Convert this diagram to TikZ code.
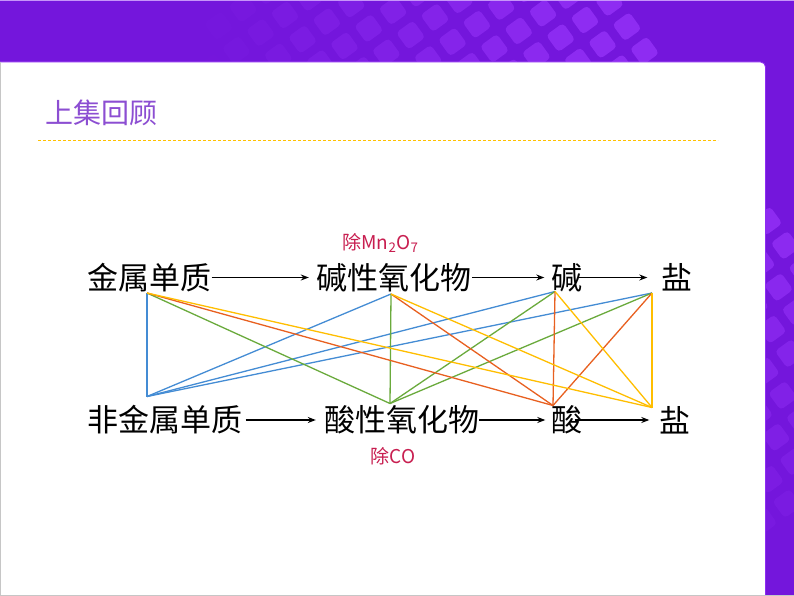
\documentclass[tikz,border=0pt]{standalone}
\usepackage{fontspec}
\setmainfont{Noto Sans CJK SC}
\usetikzlibrary{arrows.meta}
\definecolor{bandpurple}{RGB}{116,22,220}
\definecolor{tilepurple}{RGB}{142,44,242}
\definecolor{titlepurple}{RGB}{140,78,210}
\definecolor{dashyellow}{RGB}{255,192,0}
\definecolor{labelred}{RGB}{200,30,80}
\definecolor{lblue}{RGB}{68,140,212}
\definecolor{lgreen}{RGB}{106,170,60}
\definecolor{lorange}{RGB}{232,96,32}
\definecolor{lyellow}{RGB}{255,190,0}
\begin{document}
\begin{tikzpicture}[x=1pt,y=-1pt,
  mainlbl/.style={font=\fontsize{31}{31}\selectfont, inner sep=0pt, text=black},
  redlbl/.style={font=\fontsize{19}{19}\selectfont, inner sep=0pt, text=labelred},
  flow/.style={line width=1.2pt, -{Stealth[length=8pt,width=6pt]}},
  conn/.style={line width=1.3pt}]
\useasboundingbox (0,0) rectangle (794,596);
% background
\fill[bandpurple] (0,0) rectangle (794,596);
\foreach \i in {-28,...,1}{
  \foreach \j in {-12,...,17}{
    \pgfmathsetmacro{\cx}{585+24.3*\i+17.6*\j}
    \pgfmathsetmacro{\cy}{20-17.6*\i+24.3*\j}
    \pgfmathsetmacro{\dd}{veclen(\cx-794,\cy)}
    \pgfmathsetmacro{\op}{min(1,max(0,(600-\dd)/380))}
    \fill[tilepurple, fill opacity=\op, shift={(\cx,\cy)}, rotate=36, rounded corners=4pt]
      (-10.5,-10.5) rectangle (10.5,10.5);
  }}
\draw[tilepurple!50!white, line width=1pt] (0,0.5) -- (794,0.5);
\fill[white, draw=tilepurple, line width=0.8pt, rounded corners=5pt] (-10,62) rectangle (765.5,620);
\draw[gray!45, line width=1pt] (0.5,62) -- (0.5,595.5) -- (794,595.5);
% title
\node[text=titlepurple, font=\fontsize{28}{28}\selectfont, anchor=west, inner sep=0pt] (title) at (45,113) {上集回顾};
\draw[dashyellow, dash pattern=on 3pt off 2pt, line width=0.9pt] (38,140) -- (718,140);
% main nodes
\node[mainlbl] (n1) at (149.5,277.5) {金属单质};
\node[mainlbl] (n2) at (393.5,277.5) {碱性氧化物};
\node[mainlbl] (n3) at (567,277.5) {碱};
\node[mainlbl] (n4) at (677,277.5) {盐};
\node[mainlbl] (m1) at (165,420) {非金属单质};
\node[mainlbl] (m2) at (401.5,420) {酸性氧化物};
\node[mainlbl] (m3) at (567,420) {酸};
\node[mainlbl] (m4) at (675,420) {盐};
\node[redlbl] (r1) at (380.5,243) {除Mn\textsubscript{2}O\textsubscript{7}};
\node[redlbl] (r2) at (393,456) {除CO};
% flow arrows
\draw[flow, shorten >=7pt] (n1.east) -- (n2.west);
\draw[flow, shorten <=1pt, shorten >=7pt] (n2.east) -- (n3.west);
\draw[flow, shorten <=-5pt, shorten >=14pt] (n3.east) -- (n4.west);
\draw[flow, shorten <=3pt, shorten >=8pt] (m1.east) -- (m2.west);
\draw[flow, shorten >=6pt] (m2.east) -- (m3.west);
\draw[flow, shorten <=-8pt, shorten >=10pt] (m3.east) -- (m4.west);
% connection points
\coordinate (A) at (147,293);
\coordinate (B) at (391,294);
\coordinate (C) at (555,291.5);
\coordinate (D) at (652,293);
\coordinate (E) at (147,396.5);
\coordinate (F) at (390,403.5);
\coordinate (G) at (553,405.5);
\coordinate (H) at (652,407.5);
% blue
\draw[conn, lblue] (A) -- (E);
\draw[conn, lblue] (E) -- (B);
\draw[conn, lblue] (E) -- (C);
\draw[conn, lblue] (E) -- (D);
% green
\draw[conn, lgreen] (A) -- (F);
\draw[conn, lgreen] (B) -- (F);
\draw[conn, lgreen] (C) -- (F);
\draw[conn, lgreen] (D) -- (F);
% orange
\draw[conn, lorange] (A) -- (G);
\draw[conn, lorange] (B) -- (G);
\draw[conn, lorange] (C) -- (G);
\draw[conn, lorange] (D) -- (G);
% yellow
\draw[conn, lyellow] (A) -- (H);
\draw[conn, lyellow] (B) -- (H);
\draw[conn, lyellow] (C) -- (H);
\draw[conn, lyellow] (D) -- (H);
\end{tikzpicture}
\end{document}
